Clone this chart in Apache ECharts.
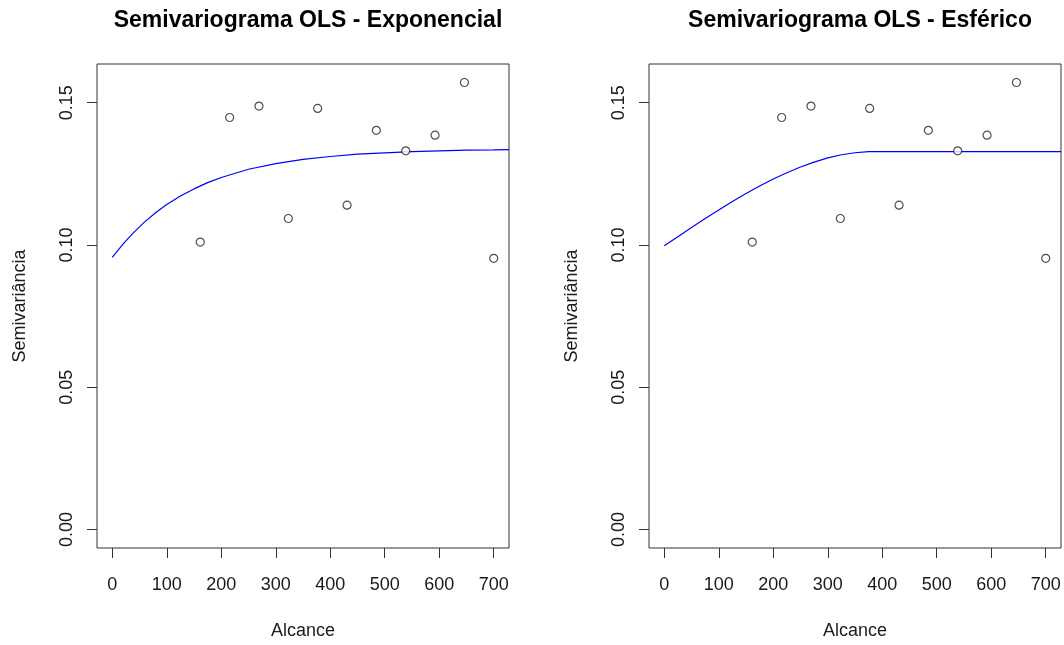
<!DOCTYPE html>
<html>
<head>
<meta charset="utf-8">
<title>Semivariogramas OLS</title>
<script src="https://cdn.jsdelivr.net/npm/echarts@6/dist/echarts.min.js"></script>
<style>
  html, body { margin: 0; padding: 0; background: #ffffff; }
  #chart { width: 1064px; height: 645px; }
</style>
</head>
<body>
<div id="chart"></div>
<script>
// Empirical semivariogram (lag distance, semivariance)
const lags  = [161.5, 215.4, 269.2, 323.1, 376.9, 430.8, 484.6, 538.5, 592.3, 646.2, 700];
const gamma = [0.1010, 0.1448, 0.1488, 0.1093, 0.1480, 0.1140, 0.1403, 0.1331, 0.1386, 0.1571, 0.0953];

// Fitted exponential model (OLS)
const expDist = [0, 20, 40, 60, 80, 100, 125, 150, 175, 200, 250, 300, 350, 400, 450, 500, 550, 600, 650, 700, 728];
const expFit  = [0.0956, 0.1004, 0.1045, 0.1082, 0.1114, 0.1142, 0.1172, 0.1197, 0.1219, 0.1237, 0.1266,
                 0.1286, 0.1301, 0.1311, 0.1319, 0.1324, 0.1328, 0.1331, 0.1333, 0.1334, 0.1335];

// Fitted spherical model (OLS)
const sphDist = [0, 25, 50, 75, 100, 125, 150, 175, 200, 225, 250, 275, 300, 325, 350, 375, 385, 728];
const sphFit  = [0.0997, 0.1029, 0.1061, 0.1093, 0.1123, 0.1153, 0.1181, 0.1207, 0.1232, 0.1254, 0.1274,
                 0.1291, 0.1306, 0.1317, 0.1324, 0.1328, 0.1328, 0.1328];

// Axis ticks
const xTicks = [0, 100, 200, 300, 400, 500, 600, 700];
const yTicks = [0, 0.05, 0.10, 0.15];

const titles = ['Semivariograma OLS - Exponencial', 'Semivariograma OLS - Esférico'];
const xName = 'Alcance';
const yName = 'Semivariância';

const FONT = "'Liberation Sans', Arial, Helvetica, sans-serif";
const INK = '#1a1a1a';

const grids = [
  { left: 97, top: 64, width: 412, height: 488 },
  { left: 649, top: 64, width: 412, height: 488 }
];

const zip = (xs, ys) => xs.map((x, i) => [x, ys[i]]);

function xAxisFor(i) {
  return {
    type: 'value', gridIndex: i, position: 'bottom', min: -28, max: 728,
    name: xName, nameLocation: 'middle', nameGap: 74,
    nameTextStyle: { fontFamily: FONT, fontSize: 18, color: INK },
    axisLine: { show: false, onZero: false },
    axisTick: { show: true, inside: false, length: 10, customValues: xTicks,
                lineStyle: { color: '#333', width: 1 } },
    axisLabel: { show: true, margin: 28, customValues: xTicks,
                 fontFamily: FONT, fontSize: 18, color: INK },
    splitLine: { show: false }
  };
}

function yAxisFor(i) {
  return {
    type: 'value', gridIndex: i, position: 'left', min: -0.0065, max: 0.1636,
    name: yName, nameLocation: 'middle', nameGap: 68,
    nameTextStyle: { fontFamily: FONT, fontSize: 18, color: INK },
    axisLine: { show: false, onZero: false },
    axisTick: { show: true, inside: false, length: 10, customValues: yTicks,
                lineStyle: { color: '#333', width: 1 } },
    axisLabel: { show: true, margin: 21, rotate: 90, customValues: yTicks,
                 formatter: v => v.toFixed(2),
                 fontFamily: FONT, fontSize: 18, color: INK },
    splitLine: { show: false }
  };
}

function pointsFor(i) {
  return {
    type: 'scatter', xAxisIndex: i, yAxisIndex: i,
    data: zip(lags, gamma),
    symbol: 'circle', symbolSize: 8,
    itemStyle: { color: '#ffffff', borderColor: '#222', borderWidth: 1.2 },
    z: 3
  };
}

function curveFor(i, xs, ys) {
  return {
    type: 'line', xAxisIndex: i, yAxisIndex: i,
    data: zip(xs, ys),
    showSymbol: false, smooth: false, clip: true,
    lineStyle: { color: '#0000ff', width: 1.2 },
    z: 2
  };
}

const chart = echarts.init(document.getElementById('chart'), null, { renderer: 'canvas' });
chart.setOption({
  backgroundColor: '#ffffff',
  animation: false,
  title: grids.map((g, i) => ({
    text: titles[i],
    left: g.left + g.width / 2,
    textAlign: 'center',
    top: 4,
    textStyle: { fontFamily: FONT, fontSize: 23, fontWeight: 'bold', color: '#000' }
  })),
  grid: grids.map(g => Object.assign({ show: true, borderColor: '#333', borderWidth: 1,
                                       backgroundColor: 'transparent' }, g)),
  xAxis: [xAxisFor(0), xAxisFor(1)],
  yAxis: [yAxisFor(0), yAxisFor(1)],
  series: [
    curveFor(0, expDist, expFit),
    pointsFor(0),
    curveFor(1, sphDist, sphFit),
    pointsFor(1)
  ]
});
</script>
</body>
</html>
